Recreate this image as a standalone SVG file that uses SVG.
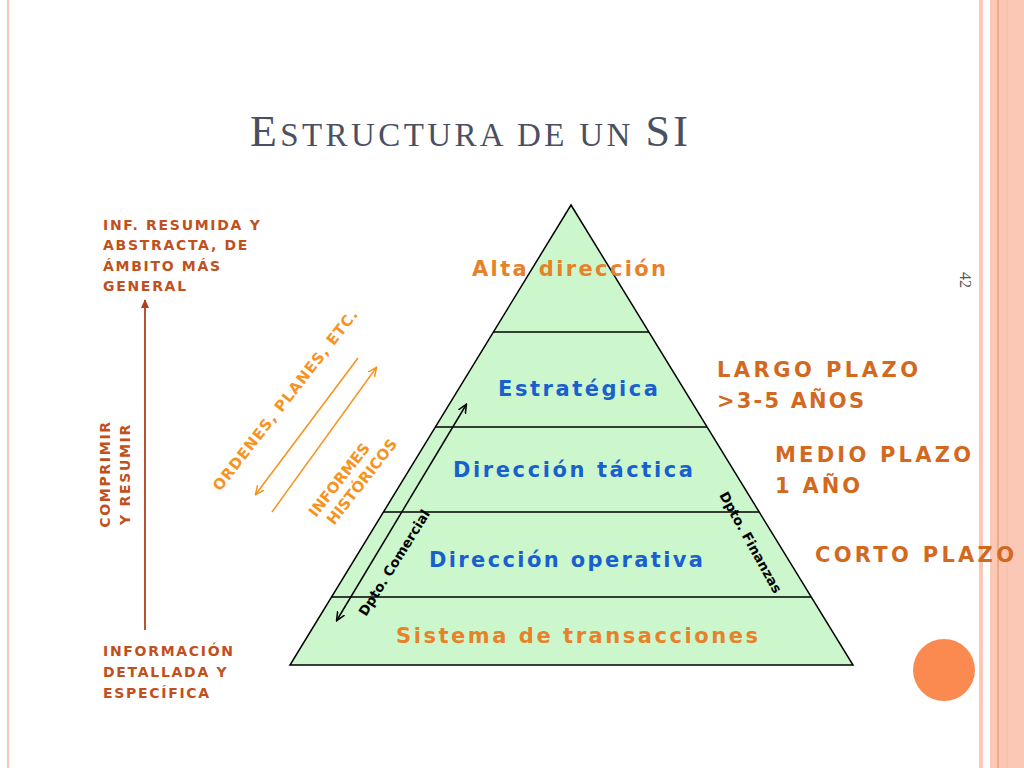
<svg xmlns="http://www.w3.org/2000/svg" width="1024" height="768" viewBox="0 0 1024 768">
<style>
.b{font-family:"DejaVu Sans",Verdana,sans-serif;font-weight:bold}
.lab{fill:#c0501c;font-size:14px;letter-spacing:1.7px}
.blue{fill:#1a5fd0;font-size:21px}
.or{fill:#e8822a;font-size:21px}
.rt{fill:#d2691e;font-size:21px}
.og{fill:#f7931e;font-size:15px}
.bk{fill:#000;font-size:13.5px}
.lv{fill:none;stroke:#000;stroke-width:1.5}
</style>
<defs>
<marker id="ao" markerWidth="10" markerHeight="10" refX="8" refY="5" orient="auto" markerUnits="userSpaceOnUse"><path d="M0,1 L9,5 L0,9" fill="none" stroke="#f7931e" stroke-width="1.5"/></marker>
<marker id="ar" markerWidth="10" markerHeight="10" refX="8" refY="5" orient="auto" markerUnits="userSpaceOnUse"><path d="M0,1 L9,5 L0,9 z" fill="#b0401c"/></marker>
<marker id="ak" markerWidth="10" markerHeight="10" refX="8" refY="5" orient="auto-start-reverse" markerUnits="userSpaceOnUse"><path d="M0,1 L9,5 L0,9" fill="none" stroke="#000" stroke-width="1.5"/></marker>
</defs>
<rect width="1024" height="768" fill="#fff"/>
<line x1="8" y1="0" x2="8" y2="768" stroke="#f8c6b4" stroke-width="2"/>
<rect x="979" y="0" width="4" height="768" fill="#fcc8b6"/>
<rect x="990" y="0" width="34" height="768" fill="#fcc8b6"/>
<line x1="998" y1="0" x2="998" y2="768" stroke="#e8946e" stroke-width="1.2"/>
<line x1="1007" y1="0" x2="1007" y2="768" stroke="#fbb89e" stroke-width="1"/>
<text x="960" y="280" transform="rotate(90 960 280)" font-family="Liberation Serif,serif" font-size="16" fill="#555" text-anchor="middle">42</text>
<circle cx="944" cy="670" r="31" fill="#fb8a50"/>
<text x="250" y="146" font-family="Liberation Serif,serif" font-size="44" fill="#4a5064" textLength="438" lengthAdjust="spacing">E<tspan font-size="33">STRUCTURA DE UN </tspan>SI</text>

<g id="pyramid">
<polygon points="571,205 853,665 290,665" fill="#ccf7cc" stroke="#000" stroke-width="1.5"/>
<line class="lv" x1="493" y1="332" x2="649" y2="332"/>
<line class="lv" x1="435" y1="427" x2="707" y2="427"/>
<line class="lv" x1="383" y1="512" x2="759" y2="512"/>
<line class="lv" x1="331" y1="597" x2="811" y2="597"/>
</g>
<g id="n1"><text class="b or" x="472" y="276" textLength="194" lengthAdjust="spacing">Alta dirección</text></g>
<g id="n2"><text class="b blue" x="498" y="396" textLength="160" lengthAdjust="spacing">Estratégica</text></g>
<g id="n3"><text class="b blue" x="453" y="477" textLength="240" lengthAdjust="spacing">Dirección táctica</text></g>
<g id="n4"><text class="b blue" x="429" y="567" textLength="274" lengthAdjust="spacing">Dirección operativa</text></g>
<g id="n5"><text class="b or" x="396" y="643" textLength="362" lengthAdjust="spacing">Sistema de transacciones</text></g>

<g id="left">
<text class="b lab"><tspan x="103" y="230">INF. RESUMIDA Y</tspan><tspan x="103" y="250">ABSTRACTA, DE</tspan><tspan x="103" y="271">ÁMBITO MÁS</tspan><tspan x="103" y="291">GENERAL</tspan></text>
<text class="b lab"><tspan x="103" y="656">INFORMACIÓN</tspan><tspan x="103" y="677">DETALLADA Y</tspan><tspan x="103" y="698">ESPECÍFICA</tspan></text>
<text class="b lab" transform="rotate(-90 110 474)"><tspan x="110" y="474" text-anchor="middle">COMPRIMIR</tspan><tspan x="110" y="494" text-anchor="middle">Y RESUMIR</tspan></text>
</g>
<g id="right">
<text class="b rt"><tspan x="717" y="377" textLength="201" lengthAdjust="spacing">LARGO PLAZO</tspan><tspan x="717" y="408" textLength="147" lengthAdjust="spacing">&gt;3-5 AÑOS</tspan></text>
<text class="b rt"><tspan x="775" y="462" textLength="196" lengthAdjust="spacing">MEDIO PLAZO</tspan><tspan x="775" y="493" textLength="85" lengthAdjust="spacing">1 AÑO</tspan></text>
<text class="b rt" x="815" y="562" textLength="199" lengthAdjust="spacing">CORTO PLAZO</text>
</g>
<g id="diag">
<text class="b og" transform="translate(220,492) rotate(-52)" textLength="225" lengthAdjust="spacing">ORDENES, PLANES, ETC.</text>
<text class="b og" transform="translate(316,518) rotate(-52)"><tspan x="0" y="0">INFORMES</tspan><tspan x="5" y="19">HISTÓRICOS</tspan></text>
<text class="b bk" transform="translate(366,617) rotate(-58)">Dpto. Comercial</text>
<text class="b bk" transform="translate(719,495) rotate(61)">Dpto. Finanzas</text>
</g>
<g id="connectors">
<line x1="145" y1="630" x2="145" y2="300" stroke="#b0401c" stroke-width="1.8" marker-end="url(#ar)"/>
<line x1="358" y1="358" x2="256" y2="494" stroke="#f7931e" stroke-width="1.5" marker-end="url(#ao)"/>
<line x1="272" y1="512" x2="376" y2="368" stroke="#f7931e" stroke-width="1.5" marker-end="url(#ao)"/>
<line x1="337" y1="620" x2="466" y2="405" stroke="#000" stroke-width="1.5" marker-start="url(#ak)" marker-end="url(#ak)"/>
</g>
</svg>
